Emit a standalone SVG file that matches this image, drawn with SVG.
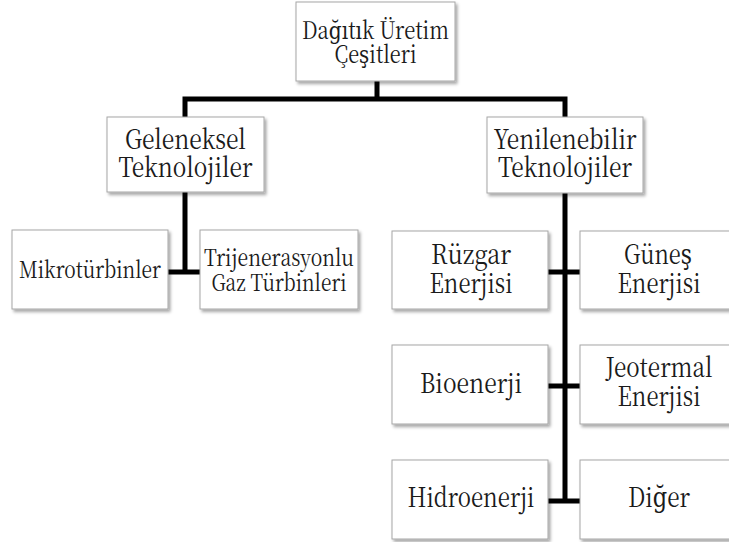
<svg xmlns="http://www.w3.org/2000/svg" width="729" height="542" viewBox="0 0 729 542">
<defs>
<filter id="sh" x="-10%" y="-10%" width="125%" height="130%">
<feDropShadow dx="2" dy="2.5" stdDeviation="1.5" flood-color="#000" flood-opacity="0.35"/>
</filter>
<style>
.box{fill:#fff;stroke:#a6a6a6;stroke-width:1;filter:url(#sh)}
.t{fill:#1a1a1a;text-anchor:middle}
.c{stroke:#000;stroke-width:5;fill:none;stroke-linecap:square}
</style>
</defs>
<rect width="729" height="542" fill="#fff"/>
<g id="connectors">
<path class="c" d="M377 81V99M185 99H565M185 99V117M565 99V117"/>
<path class="c" d="M185 192V272M168 272H200"/>
<path class="c" d="M565 193V501M548 272H580M548 386H580M548 501H580"/>
</g>
<g font-family="'Noto Serif CJK SC', 'DejaVu Serif', serif" font-weight="400">
<g id="n-root"><rect class="box" x="296" y="2" width="159" height="79"/>
<text class="t" font-size="24" x="375.5" y="39" textLength="147" lengthAdjust="spacingAndGlyphs">Dağıtık Üretim</text>
<text class="t" font-size="24" x="375.5" y="63" textLength="82" lengthAdjust="spacingAndGlyphs">Çeşitleri</text></g>
<g id="n-geleneksel"><rect class="box" x="107" y="117" width="157" height="75"/>
<text class="t" font-size="27" x="185.5" y="149" textLength="121" lengthAdjust="spacingAndGlyphs">Geleneksel</text>
<text class="t" font-size="27" x="185.5" y="177" textLength="134" lengthAdjust="spacingAndGlyphs">Teknolojiler</text></g>
<g id="n-yenilenebilir"><rect class="box" x="487" y="117" width="156" height="76"/>
<text class="t" font-size="27" x="565" y="149" textLength="143" lengthAdjust="spacingAndGlyphs">Yenilenebilir</text>
<text class="t" font-size="27" x="565" y="177" textLength="134" lengthAdjust="spacingAndGlyphs">Teknolojiler</text></g>
<g id="n-mikro"><rect class="box" x="12" y="230" width="156" height="79"/>
<text class="t" font-size="23.5" x="90" y="278" textLength="142" lengthAdjust="spacingAndGlyphs">Mikrotürbinler</text></g>
<g id="n-trijen"><rect class="box" x="200" y="230" width="158" height="79"/>
<text class="t" font-size="23.5" x="279" y="266" textLength="150" lengthAdjust="spacingAndGlyphs">Trijenerasyonlu</text>
<text class="t" font-size="23.5" x="279" y="291" textLength="135" lengthAdjust="spacingAndGlyphs">Gaz Türbinleri</text></g>
<g id="n-ruzgar"><rect class="box" x="392" y="231" width="156" height="78"/>
<text class="t" font-size="27" x="471" y="264" textLength="80" lengthAdjust="spacingAndGlyphs">Rüzgar</text>
<text class="t" font-size="27" x="471" y="293" textLength="83" lengthAdjust="spacingAndGlyphs">Enerjisi</text></g>
<g id="n-gunes"><rect class="box" x="580" y="231" width="156" height="78"/>
<text class="t" font-size="27" x="658" y="264" textLength="68" lengthAdjust="spacingAndGlyphs">Güneş</text>
<text class="t" font-size="27" x="659" y="293" textLength="83" lengthAdjust="spacingAndGlyphs">Enerjisi</text></g>
<g id="n-bio"><rect class="box" x="392" y="345" width="156" height="79"/>
<text class="t" font-size="27" x="471" y="393" textLength="102" lengthAdjust="spacingAndGlyphs">Bioenerji</text></g>
<g id="n-jeo"><rect class="box" x="580" y="345" width="156" height="79"/>
<text class="t" font-size="27" x="659" y="377" textLength="107" lengthAdjust="spacingAndGlyphs">Jeotermal</text>
<text class="t" font-size="27" x="659" y="406" textLength="83" lengthAdjust="spacingAndGlyphs">Enerjisi</text></g>
<g id="n-hidro"><rect class="box" x="392" y="460" width="156" height="79"/>
<text class="t" font-size="27" x="471" y="507" textLength="127" lengthAdjust="spacingAndGlyphs">Hidroenerji</text></g>
<g id="n-diger"><rect class="box" x="580" y="460" width="156" height="79"/>
<text class="t" font-size="27" x="659" y="507" textLength="62" lengthAdjust="spacingAndGlyphs">Diğer</text></g>
</g>
</svg>
